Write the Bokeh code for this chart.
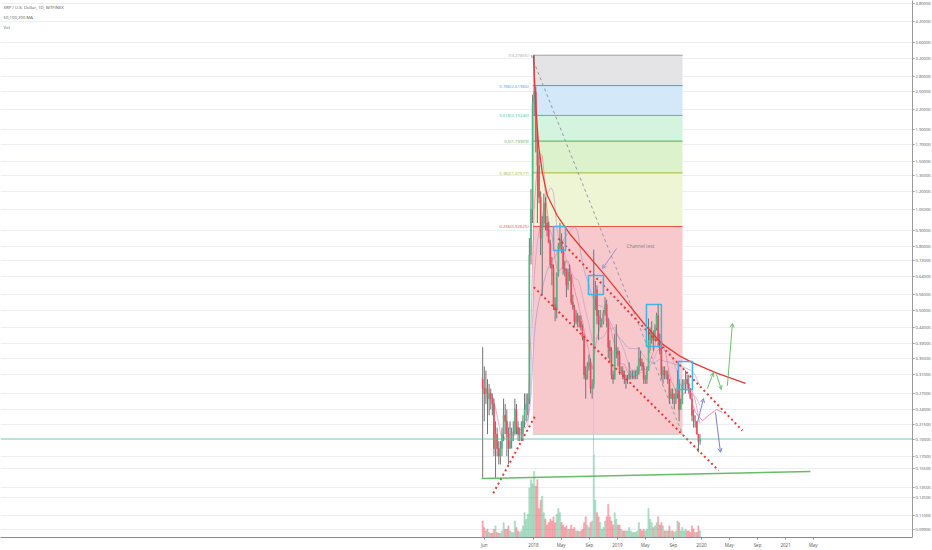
import numpy as np
import pandas as pd
from bokeh.plotting import figure
from bokeh.models import (Range1d, FixedTicker, NumeralTickFormatter, ColumnDataSource,
                          Label, Arrow, OpenHead, Span, LinearScale)
from bokeh.embed import file_html
from bokeh.resources import INLINE
from bokeh.core.properties import value

EPOCH = pd.Timestamp("1970-01-01")


def day(s):
    return (pd.Timestamp(s) - EPOCH).days

# ---------------- weekly XRP/USD (Bitfinex) ----------------
week_start = "2017-05-22"
open_ = [0.30, 0.28, 0.27, 0.28, 0.26, 0.27, 0.26, 0.25, 0.18, 0.20, 0.18, 0.17, 0.18, 0.20, 0.23, 0.22,
         0.20, 0.18, 0.19, 0.20, 0.20, 0.24, 0.21, 0.20, 0.20, 0.20, 0.22, 0.24, 0.25, 0.26, 0.75, 1.05,
         2.30, 2.50, 1.75, 1.45, 1.15, 0.85, 0.95, 1.10, 0.95, 0.90,
         0.82, 0.70, 0.68, 0.52, 0.50, 0.65, 0.80, 0.84, 0.78, 0.68,
         0.67, 0.60, 0.66, 0.64, 0.53, 0.51, 0.46, 0.48, 0.46, 0.46,
         0.44, 0.41, 0.31, 0.30, 0.33, 0.34, 0.28, 0.29, 0.55, 0.58,
         0.48, 0.45, 0.46, 0.46, 0.49, 0.52, 0.46, 0.38, 0.37, 0.31,
         0.30, 0.37, 0.37,
         0.36, 0.32, 0.32, 0.31, 0.30, 0.30, 0.30, 0.31, 0.31, 0.31,
         0.31, 0.31, 0.32, 0.35, 0.34, 0.33, 0.30, 0.30, 0.32, 0.40,
         0.42, 0.42, 0.40, 0.44, 0.48, 0.40, 0.37, 0.31, 0.32, 0.31,
         0.31, 0.30, 0.26, 0.27, 0.26, 0.26, 0.27, 0.29, 0.24, 0.25,
         0.29, 0.29, 0.30, 0.29, 0.28, 0.26, 0.23, 0.22, 0.22, 0.20, 0.19]
high = [0.38, 0.33, 0.32, 0.30, 0.29, 0.28, 0.27, 0.26, 0.22, 0.21, 0.19, 0.19, 0.21, 0.26, 0.25, 0.24,
        0.21, 0.22, 0.21, 0.22, 0.26, 0.25, 0.22, 0.21, 0.22, 0.23, 0.27, 0.27, 0.27, 0.85, 1.22, 2.45,
        3.28, 2.60, 1.85, 1.60, 1.20, 1.00, 1.18, 1.15, 1.00, 0.96,
        0.84, 0.74, 0.70, 0.55, 0.66, 0.82, 0.95, 0.88, 0.80, 0.72,
        0.68, 0.68, 0.70, 0.65, 0.56, 0.52, 0.50, 0.49, 0.48, 0.48,
        0.45, 0.42, 0.33, 0.34, 0.36, 0.35, 0.30, 0.78, 0.62, 0.60,
        0.50, 0.50, 0.47, 0.50, 0.55, 0.54, 0.47, 0.40, 0.38, 0.32,
        0.42, 0.45, 0.38,
        0.37, 0.33, 0.33, 0.32, 0.31, 0.31, 0.34, 0.32, 0.32, 0.32,
        0.32, 0.33, 0.38, 0.37, 0.35, 0.34, 0.31, 0.33, 0.47, 0.44,
        0.46, 0.43, 0.45, 0.49, 0.52, 0.42, 0.38, 0.33, 0.33, 0.32,
        0.32, 0.30, 0.28, 0.28, 0.27, 0.28, 0.32, 0.30, 0.26, 0.30,
        0.30, 0.32, 0.31, 0.31, 0.28, 0.27, 0.24, 0.23, 0.22, 0.20, 0.20]
low = [0.145, 0.22, 0.25, 0.20, 0.23, 0.24, 0.23, 0.17, 0.145, 0.17, 0.16, 0.16, 0.17, 0.19, 0.20, 0.17,
       0.16, 0.18, 0.18, 0.19, 0.20, 0.20, 0.19, 0.19, 0.19, 0.19, 0.21, 0.22, 0.23, 0.25, 0.70, 0.95,
       2.10, 1.60, 0.95, 1.10, 0.75, 0.56, 0.92, 0.90, 0.86, 0.82,
       0.68, 0.60, 0.50, 0.46, 0.47, 0.64, 0.78, 0.76, 0.65, 0.64,
       0.55, 0.58, 0.62, 0.52, 0.50, 0.44, 0.45, 0.44, 0.44, 0.43,
       0.40, 0.30, 0.26, 0.30, 0.32, 0.27, 0.26, 0.28, 0.50, 0.45,
       0.40, 0.44, 0.44, 0.45, 0.48, 0.44, 0.35, 0.34, 0.30, 0.29,
       0.30, 0.35, 0.33,
       0.31, 0.31, 0.30, 0.29, 0.28, 0.29, 0.30, 0.30, 0.30, 0.30,
       0.30, 0.30, 0.31, 0.33, 0.32, 0.29, 0.29, 0.29, 0.32, 0.37,
       0.39, 0.37, 0.40, 0.43, 0.38, 0.36, 0.30, 0.29, 0.30, 0.30,
       0.29, 0.25, 0.26, 0.25, 0.24, 0.25, 0.26, 0.22, 0.24, 0.25,
       0.28, 0.27, 0.28, 0.27, 0.26, 0.22, 0.21, 0.21, 0.20, 0.175, 0.185]
close = [0.28, 0.27, 0.28, 0.26, 0.27, 0.26, 0.25, 0.18, 0.20, 0.18, 0.17, 0.18, 0.20, 0.23, 0.22, 0.20,
         0.18, 0.19, 0.20, 0.20, 0.24, 0.21, 0.20, 0.20, 0.20, 0.22, 0.24, 0.25, 0.26, 0.75, 1.05, 2.30,
         2.50, 1.75, 1.45, 1.15, 0.85, 0.95, 1.10, 0.95, 0.90, 0.82,
         0.70, 0.68, 0.52, 0.50, 0.65, 0.80, 0.84, 0.78, 0.68, 0.67,
         0.60, 0.66, 0.64, 0.53, 0.51, 0.46, 0.48, 0.46, 0.46, 0.44,
         0.41, 0.31, 0.30, 0.33, 0.34, 0.28, 0.29, 0.55, 0.58, 0.48,
         0.45, 0.46, 0.46, 0.49, 0.52, 0.46, 0.38, 0.37, 0.31, 0.30,
         0.37, 0.37, 0.36,
         0.32, 0.32, 0.31, 0.30, 0.30, 0.30, 0.31, 0.31, 0.31, 0.31,
         0.31, 0.32, 0.35, 0.34, 0.33, 0.30, 0.30, 0.32, 0.40, 0.42,
         0.42, 0.40, 0.44, 0.48, 0.40, 0.37, 0.31, 0.32, 0.31, 0.31,
         0.30, 0.26, 0.27, 0.26, 0.26, 0.27, 0.29, 0.24, 0.25, 0.29,
         0.29, 0.30, 0.29, 0.28, 0.26, 0.23, 0.22, 0.22, 0.20, 0.19, 0.193]
volume = [20, 12, 8, 10, 6, 5, 5, 10, 14, 6, 5, 5, 8, 18, 10, 10,
          14, 8, 6, 6, 20, 12, 8, 6, 8, 14, 30, 22, 28, 60, 70, 65,
          80, 62, 70, 35, 45, 50, 30, 22, 15, 18,
          22, 20, 25, 18, 28, 35, 30, 18, 15, 12,
          14, 10, 10, 15, 10, 12, 8, 8, 7, 8,
          10, 18, 25, 15, 12, 18, 20, 100, 45, 30,
          25, 18, 10, 12, 20, 25, 40, 25, 20, 15,
          30, 22, 15,
          15, 10, 8, 8, 8, 8, 12, 8, 6, 6,
          6, 8, 18, 10, 8, 10, 8, 10, 35, 22,
          18, 12, 14, 18, 25, 15, 18, 14, 8, 8,
          8, 14, 8, 8, 6, 8, 20, 18, 8, 12,
          8, 10, 8, 8, 6, 14, 10, 6, 6, 14, 8]

last_price = 0.193
last_price_text = "0.19300"

# axis ticks
price_ticks = [4.8, 4.2, 3.6, 3.2, 2.8, 2.5, 2.2, 1.9, 1.7, 1.5, 1.35, 1.2, 1.05, 0.9, 0.8, 0.72,
               0.64, 0.56, 0.5, 0.44, 0.39, 0.35, 0.31, 0.27, 0.24, 0.215, 0.17, 0.155, 0.135,
               0.125, 0.11, 0.099]
date_ticks = ["2017-06-01", "2018-01-01", "2018-05-01", "2018-09-01", "2019-01-01", "2019-05-01",
              "2019-09-01", "2020-01-01", "2020-05-01", "2020-09-01", "2021-01-01", "2021-05-01"]
date_tick_labels = ["Jun", "2018", "May", "Sep", "2019", "May", "Sep", "2020", "May", "Sep", "2021", "May"]

# Fibonacci retracement
fib_start, fib_end = "2017-12-29", "2019-10-11"
fib_prices = [0.19962, 0.92625, 1.37577, 1.73909, 2.10240, 2.61966, 3.27855]
fib_labels = ["", "0.236(0.92625)", "0.382(1.37577)", "0.5(1.73909)", "0.618(2.10240)",
              "0.786(2.61966)", "1(3.27855)"]
fib_line_colors = ["#d0d0d0", "#e2504c", "#a5b43a", "#4caf50", "#3cc29a", "#4a9be0", "#9e9e9e"]
fib_fill_colors = ["#f7c9cc", "#eef5d4", "#dbf2cd", "#d4f4df", "#d3e8f8", "#e4e4e6"]
fib_diag_dates = ["2017-12-22", "2019-10-11"]
fib_diag_prices = [3.27855, 0.19962]

# drawings
curve_dates = ["2018-01-01", "2018-01-05", "2018-01-13", "2018-01-23", "2018-02-08", "2018-03-02",
               "2018-04-14", "2018-06-10", "2018-07-24", "2018-11-01", "2019-02-05", "2019-05-03",
               "2019-07-11", "2019-10-02", "2019-11-23", "2020-03-02", "2020-07-11"]
curve_prices = [3.27, 2.76, 2.15, 1.684, 1.38, 1.164, 1.004, 0.873, 0.799, 0.655, 0.536, 0.446,
                0.391, 0.355, 0.339, 0.315, 0.291]
chan_upper_dates, chan_upper_prices = ["2018-04-19", "2020-06-27"], [0.848, 0.2055]
chan_lower_dates, chan_lower_prices = ["2018-01-02", "2020-03-16"], [0.592, 0.153]
chan_steep_dates, chan_steep_prices = ["2017-07-10", "2018-01-09"], [0.1294, 0.2296]
support_dates, support_prices = ["2017-05-20", "2021-04-19"], [0.1442, 0.1518]

box_left = ["2018-03-29", "2018-08-28", "2019-05-07", "2019-09-23"]
box_right = ["2018-05-20", "2018-11-01", "2019-07-11", "2019-11-23"]
box_top = [0.926, 0.645, 0.521, 0.342]
box_bottom = [0.776, 0.561, 0.382, 0.278]

green_arrow_start = [("2020-01-27", 0.280), ("2020-03-06", 0.311), ("2020-04-23", 0.286)]
green_arrow_end = [("2020-02-22", 0.315), ("2020-03-28", 0.278), ("2020-05-15", 0.453)]
blue_arrow_start = [("2019-12-15", 0.218), ("2020-03-02", 0.235)]
blue_arrow_end = [("2020-01-10", 0.260), ("2020-03-24", 0.175)]
note_arrow_start, note_arrow_end = ("2018-12-28", 0.787), ("2018-10-28", 0.679)
note_text, note_pos = "Channel test", ("2019-02-09", 0.80)
proj_dates = ["2019-11-06", "2019-12-06", "2020-01-06", "2020-02-05", "2020-03-07", "2020-04-02"]
proj_prices = [0.272, 0.235, 0.221, 0.231, 0.240, 0.235]
vline_date, vline_top = "2018-09-19", 0.787

# ---------------- figure ----------------
Y_LO, Y_HI = 0.09331, 4.909
FW, FH = 912, 537
base = day("2018-01-01")
p = figure(frame_width=FW, frame_height=FH,
           x_range=Range1d(base - 2317.4, base + 1647.8),
           y_range=Range1d(Y_LO, Y_HI), y_axis_type="log", y_axis_location="right",
           output_backend="svg", toolbar_location=None,
           min_border_left=0, min_border_top=0, min_border_right=0, min_border_bottom=0,
           background_fill_color="white", border_fill_color="white", outline_line_color=None)

p.extra_y_ranges = {"vol": Range1d(0, 650)}
p.extra_y_scales = {"vol": LinearScale()}

FONT = "Open Sans"
ax = p.yaxis[0]
axis_ticks = sorted(price_ticks + [last_price])
ax.ticker = FixedTicker(ticks=axis_ticks)
ax.formatter = NumeralTickFormatter(format="0.00000")
ax.major_label_overrides = {last_price: last_price_text}
ax.major_label_text_font_size = "4.1px"
ax.major_label_text_color = "#555555"
ax.major_label_text_font = FONT
ax.axis_line_color = "#9a9a9a"
ax.major_tick_line_color = "#9a9a9a"
ax.major_tick_out = 2
ax.major_tick_in = 0
ax.minor_tick_out = 0
ax.minor_tick_in = 0
ax.major_label_standoff = 1

xa = p.xaxis[0]
tick_days = [day(d) for d in date_ticks]
xa.ticker = FixedTicker(ticks=tick_days)
xa.major_label_overrides = {t: lab for t, lab in zip(tick_days, date_tick_labels)}
xa.major_label_text_font_size = "4.5px"
xa.major_label_text_color = "#555555"
xa.major_label_text_font = FONT
xa.axis_line_color = "#8a8a8a"
xa.major_tick_line_color = "#8a8a8a"
xa.major_tick_out = 2
xa.major_tick_in = 0
xa.minor_tick_out = 0
xa.minor_tick_in = 0
xa.major_label_standoff = 2

p.xgrid.visible = False
p.ygrid.ticker = FixedTicker(ticks=price_ticks)
p.ygrid.grid_line_color = "#eceef3"
p.ygrid.grid_line_width = 1

# Fibonacci bands
fs, fe = day(fib_start), day(fib_end)
p.quad(left=[fs] * 6, right=[fe] * 6, bottom=fib_prices[:-1], top=fib_prices[1:],
       fill_color=fib_fill_colors, line_color=None)
p.segment(x0=[fs] * 7, x1=[fe] * 7, y0=fib_prices, y1=fib_prices,
          line_color=fib_line_colors, line_width=1)
fib_src = ColumnDataSource(dict(x=[fs - 18] * 7, y=fib_prices, t=fib_labels, c=fib_line_colors))
p.text(x="x", y="y", text="t", text_color="c", source=fib_src, text_align="right",
       text_baseline="middle", text_font_size="4.3px", text_font=value(FONT))
p.line([day(d) for d in fib_diag_dates], fib_diag_prices, line_color="#9598a1",
       line_dash="3 3", line_width=1)

# current price line
p.add_layout(Span(location=last_price, dimension="width", line_color="#4fb9a6",
                  line_width=1, line_alpha=0.8))

# volume
xs = np.array([(t - EPOCH).days for t in pd.date_range(week_start, periods=len(close), freq="7D")]) + 3.0
o = np.array(open_)
c = np.array(close)
up = c >= o
vol_colors = np.where(up, "#53b987", "#eb4d5c")
p.vbar(x=xs, width=5, top=volume, bottom=0, y_range_name="vol",
       fill_color=vol_colors, line_color=vol_colors, fill_alpha=0.32, line_alpha=0.32)

# vertical marker line
p.segment(x0=[day(vline_date)], x1=[day(vline_date)], y0=[vline_top], y1=[Y_LO],
          line_color="#a8dcd4", line_width=1)

# moving averages (from weekly closes: ~50, 100, 200 days)
cs = pd.Series(close)
for n, col in [(7, "#f06292"), (14, "#c48fc9"), (29, "#9c8ccf")]:
    p.line(xs, cs.rolling(n).mean().values, line_color=col, line_width=0.8, line_alpha=0.7)

# candles
p.segment(x0=xs, x1=xs, y0=high, y1=low, line_color="#737375", line_width=1)
body_colors = np.where(up, "#53b987", "#eb4d5c")
p.vbar(x=xs, width=4.5, top=np.maximum(o, c), bottom=np.minimum(o, c),
       fill_color=body_colors, line_color=body_colors, line_width=0.6)

# red arc
p.line([day(d) for d in curve_dates], curve_prices, line_color="#e53935", line_width=1.3)

# red dotted channel
for ds, ps in [(chan_upper_dates, chan_upper_prices), (chan_lower_dates, chan_lower_prices),
               (chan_steep_dates, chan_steep_prices)]:
    p.line([day(d) for d in ds], ps, line_color="#e53935", line_width=2, line_dash="2 3")

# green support
p.line([day(d) for d in support_dates], support_prices, line_color="#4caf50", line_width=1.5,
       line_alpha=0.85)

# cyan boxes
p.quad(left=[day(d) for d in box_left], right=[day(d) for d in box_right],
       top=box_top, bottom=box_bottom, fill_color=None, line_color="#3fb4e5", line_width=1.5)

# pink projection curve
p.line([day(d) for d in proj_dates], proj_prices, line_color="#ec6f9a", line_width=1,
       line_alpha=0.8)


def add_arrow(s, e, col):
    p.add_layout(Arrow(end=OpenHead(size=4, line_color=col, line_width=1),
                       x_start=day(s[0]), y_start=s[1], x_end=day(e[0]), y_end=e[1],
                       line_color=col, line_width=1))


for s, e in zip(green_arrow_start, green_arrow_end):
    add_arrow(s, e, "#6cc070")
for s, e in zip(blue_arrow_start, blue_arrow_end):
    add_arrow(s, e, "#7d7fc4")
add_arrow(note_arrow_start, note_arrow_end, "#9b8fd0")

p.text(x=[day(note_pos[0])], y=[note_pos[1]], text=[note_text], text_color="#80808e",
       text_font_size="4.8px", text_baseline="middle", text_font=value(FONT))

# legend text
for i, t in enumerate(["XRP / U.S. Dollar, 1D, BITFINEX", "50,100,200 MA", "Vol"]):
    p.add_layout(Label(x=3, y=FH - 3 - 10 * i, x_units="screen", y_units="screen", text=t,
                       text_font_size="4.3px", text_color="#555555", text_baseline="top",
                       text_font=FONT))

open("out.html", "w").write(file_html(p, INLINE))
